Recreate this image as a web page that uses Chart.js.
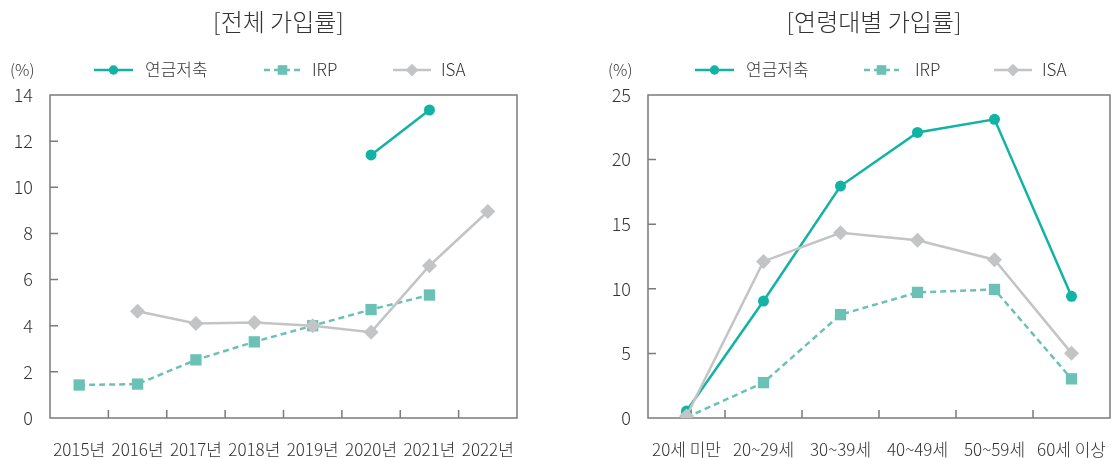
<!DOCTYPE html>
<html>
<head>
<meta charset="utf-8">
<script src="https://cdn.jsdelivr.net/npm/chart.js@4/dist/chart.umd.min.js"></script>
<style>
  html, body { margin: 0; padding: 0; background: #fff; }
  #wrap { position: relative; width: 1118px; height: 458px; overflow: hidden; }
  canvas { position: absolute; top: 0; }
</style>
</head>
<body>
<div id="wrap">
  <canvas id="total" width="559" height="458" style="left:0"></canvas>
  <canvas id="age" width="559" height="458" style="left:559px"></canvas>
</div>
<script>
// ---- data ----
const seriesNames = ['연금저축', 'IRP', 'ISA'];

const yearLabels = ['2015년', '2016년', '2017년', '2018년', '2019년', '2020년', '2021년', '2022년'];
const totalPension = [null, null, null, null, null, 11.4, 13.35, null];
const totalIRP     = [1.43, 1.47, 2.52, 3.3, 4.0, 4.7, 5.33, null];
const totalISA     = [null, 4.63, 4.1, 4.14, 4.0, 3.72, 6.6, 8.95];
const totalYTicks  = [0, 2, 4, 6, 8, 10, 12, 14];

const ageLabels  = ['20세 미만', '20~29세', '30~39세', '40~49세', '50~59세', '60세 이상'];
const agePension = [0.54, 9.05, 17.95, 22.1, 23.12, 9.42];
const ageIRP     = [0.05, 2.74, 8.0, 9.72, 9.95, 3.03];
const ageISA     = [0.15, 12.12, 14.33, 13.76, 12.25, 5.02];
const ageYTicks  = [0, 5, 10, 15, 20, 25];

// ---- styles ----
const FONT = "'Noto Sans CJK KR', 'Noto Sans', sans-serif";
const TEXT = '#333333';
const FRAME = '#7b7b7b';
const C_PENSION = '#12b3a4';
const C_IRP = '#6cc1b7';
const C_ISA = '#c3c4c6';

function makeDatasets(p, irp, isa) {
  return [
    { label: seriesNames[0], data: p, borderColor: C_PENSION, backgroundColor: C_PENSION,
      borderWidth: 2.5, pointStyle: 'circle', pointRadius: 5.5, pointBorderWidth: 0, order: 1 },
    { label: seriesNames[1], data: irp, borderColor: C_IRP, backgroundColor: C_IRP,
      borderWidth: 2.5, borderDash: [6, 4], pointStyle: 'rect', pointRadius: 8, pointBorderWidth: 0, order: 2 },
    { label: seriesNames[2], data: isa, borderColor: C_ISA, backgroundColor: C_ISA,
      borderWidth: 2.5, pointStyle: 'rectRot', pointRadius: 7.5, pointBorderWidth: 0, order: 0 }
  ];
}

// frame box, inward tick marks, title, unit label and line legend
const framePlugin = {
  id: 'frame',
  beforeDatasetsDraw(chart) {
    const { ctx, chartArea: a, scales: { x, y } } = chart;
    ctx.save();
    ctx.strokeStyle = FRAME;
    ctx.lineWidth = 1.5;
    ctx.strokeRect(a.left, a.top, a.right - a.left, a.bottom - a.top);
    ctx.beginPath();
    y.ticks.forEach(t => {
      if (t.value === y.min || t.value === y.max) return;
      const py = y.getPixelForValue(t.value);
      ctx.moveTo(a.left, py); ctx.lineTo(a.left + 8, py);
    });
    for (let i = 1; i < x.ticks.length; i++) {
      const px = (x.getPixelForTick(i - 1) + x.getPixelForTick(i)) / 2;
      ctx.moveTo(px, a.bottom); ctx.lineTo(px, a.bottom - 8);
    }
    ctx.stroke();
    ctx.restore();
  },
  afterDraw(chart, args, opts) {
    const { ctx, chartArea: a } = chart;
    ctx.save();
    ctx.fillStyle = TEXT;
    ctx.textBaseline = 'middle';
    // title
    ctx.font = `300 24px ${FONT}`;
    ctx.textAlign = 'center';
    ctx.fillText(opts.title, (a.left + a.right) / 2 - 5, 22);
    // unit
    ctx.font = `300 16px ${FONT}`;
    ctx.textAlign = 'left';
    ctx.fillText('(%)', opts.unitX, 70);
    // legend
    chart.data.datasets.forEach((ds, i) => {
      const [x0, x1, tx] = opts.legend[i];
      const ly = 70;
      ctx.save();
      ctx.strokeStyle = ds.borderColor;
      ctx.lineWidth = ds.borderWidth;
      ctx.setLineDash(ds.borderDash || []);
      ctx.beginPath(); ctx.moveTo(x0, ly); ctx.lineTo(x1, ly); ctx.stroke();
      ctx.setLineDash([]);
      ctx.fillStyle = ds.backgroundColor;
      Chart.helpers.drawPoint(ctx, {
        pointStyle: ds.pointStyle, radius: ds.pointRadius * 0.85, rotation: 0, borderWidth: 0
      }, (x0 + x1) / 2, ly);
      ctx.restore();
      ctx.font = `300 17px ${FONT}`;
      ctx.fillStyle = TEXT;
      ctx.fillText(ds.label, tx, ly);
    });
    ctx.restore();
  }
};

function makeChart(id, labels, datasets, yTicks, cfg) {
  return new Chart(document.getElementById(id), {
    type: 'line',
    data: { labels, datasets },
    plugins: [framePlugin],
    options: {
      responsive: false,
      animation: false,
      devicePixelRatio: 1,
      layout: { padding: { left: 0, right: cfg.padRight, top: 95, bottom: 0 } },
      plugins: {
        legend: { display: false },
        tooltip: { enabled: false },
        frame: { title: cfg.title, unitX: cfg.unitX, legend: cfg.legend }
      },
      elements: { line: { tension: 0 } },
      scales: {
        x: {
          offset: true,
          grid: { display: false, drawTicks: false },
          border: { display: false },
          ticks: { color: TEXT, font: { family: FONT, size: 17, weight: 300 }, padding: 21, maxRotation: 0, autoSkip: false },
          afterFit: s => { s.height = 40; s.paddingLeft = 0; s.paddingRight = 0; }
        },
        y: {
          min: yTicks[0], max: yTicks[yTicks.length - 1],
          grid: { display: false, drawTicks: false },
          border: { display: false },
          ticks: { stepSize: yTicks[1] - yTicks[0], color: TEXT, font: { family: FONT, size: 18, weight: 300 }, padding: 17 },
          afterFit: s => { s.width = cfg.axisLeft; s.paddingTop = 0; s.paddingBottom = 0; }
        }
      }
    }
  });
}

makeChart('total', yearLabels, makeDatasets(totalPension, totalIRP, totalISA), totalYTicks, {
  title: '[전체 가입률]', axisLeft: 50, padRight: 559 - 517, unitX: 10,
  legend: [[94, 133, 145], [264, 301, 312], [393, 431, 441]]
});

makeChart('age', ageLabels, makeDatasets(agePension, ageIRP, ageISA), ageYTicks, {
  title: '[연령대별 가입률]', axisLeft: 648 - 559, padRight: 559 - 555, unitX: 49,
  legend: [[136, 175, 187], [305, 340, 356], [435, 473, 483]]
});
</script>
</body>
</html>
